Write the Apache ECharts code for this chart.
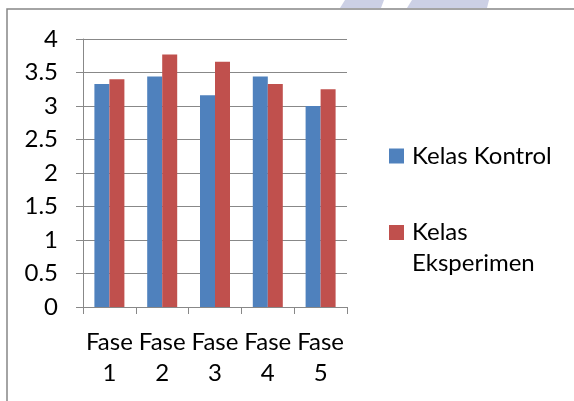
<!DOCTYPE html>
<html>
<head>
<meta charset="utf-8">
<script src="https://cdn.jsdelivr.net/npm/echarts@6/dist/echarts.min.js"></script>
<style>
  html, body { margin: 0; padding: 0; background: #fff; }
  #main { width: 574px; height: 401px; }
</style>
</head>
<body>
<div id="main"></div>
<script>
const categories = ['Fase 1', 'Fase 2', 'Fase 3', 'Fase 4', 'Fase 5'];
const kontrol = [3.33, 3.44, 3.16, 3.44, 3.0];
const eksperimen = [3.4, 3.77, 3.66, 3.33, 3.25];
const yTicks = { min: 0, max: 4, interval: 0.5 };

const FONT = 'Lato';
const gray = '#888888';

const chart = echarts.init(document.getElementById('main'), null, { renderer: 'canvas' });

const option = {
  backgroundColor: '#fff',
  animation: false,
  textStyle: { fontFamily: FONT },
  grid: { left: 83, right: 227, top: 39, bottom: 94 },
  graphic: [
    // frame
    {
      type: 'rect',
      shape: { x: 7, y: 9, width: 700, height: 500 },
      style: { fill: 'none', stroke: '#868686', lineWidth: 1.5 },
      z: -1
    },
    // watermark pieces at top
    {
      type: 'polygon',
      shape: { points: [[345, 0], [384, 0], [381, 8], [340, 8]] },
      style: { fill: '#ccd0e5' },
      z: -2
    },
    {
      type: 'polygon',
      shape: { points: [[412, 0], [489, 0], [487, 8], [407, 8]] },
      style: { fill: '#ccd0e5' },
      z: -2
    }
  ],
  legend: [
    {
      data: ['Kelas Kontrol'],
      left: 389,
      top: 144,
      padding: 0,
      itemWidth: 15,
      itemHeight: 15,
      icon: 'rect',
      textStyle: { fontFamily: FONT, fontSize: 24, color: '#000', padding: [0, 0, 0, 3] }
    },
    {
      data: ['Kelas Eksperimen'],
      left: 389,
      top: 186,
      padding: 0,
      itemWidth: 15,
      itemHeight: 15,
      icon: 'rect',
      // empty first line keeps "Kelas" level with the icon
      formatter: function (name) { return ' \n' + name.replace(' ', '\n'); },
      textStyle: {
        fontFamily: FONT, fontSize: 24, color: '#000',
        lineHeight: 31, padding: [0, 0, 0, 3]
      }
    }
  ],
  xAxis: {
    type: 'category',
    data: categories,
    axisLine: { lineStyle: { color: gray, width: 1 } },
    axisTick: { show: true, length: 7, lineStyle: { color: gray } },
    axisLabel: {
      interval: 0,
      margin: 20,
      color: '#000',
      fontFamily: FONT,
      fontSize: 24,
      lineHeight: 31,
      formatter: function (v) { return v.replace(' ', '\n'); }
    }
  },
  yAxis: {
    type: 'value',
    min: yTicks.min,
    max: yTicks.max,
    interval: yTicks.interval,
    axisLine: { show: true, lineStyle: { color: gray, width: 1 } },
    axisTick: { show: true, length: 7, lineStyle: { color: gray } },
    splitLine: { lineStyle: { color: gray, width: 1 } },
    axisLabel: {
      margin: 25,
      color: '#000',
      fontFamily: FONT,
      fontSize: 24
    }
  },
  series: [
    {
      name: 'Kelas Kontrol',
      type: 'bar',
      data: kontrol,
      barWidth: 15,
      barGap: '0%',
      itemStyle: { color: '#4f81bd' }
    },
    {
      name: 'Kelas Eksperimen',
      type: 'bar',
      data: eksperimen,
      barWidth: 15,
      barGap: '0%',
      itemStyle: { color: '#c0504d' }
    }
  ]
};

chart.setOption(option);
</script>
</body>
</html>
